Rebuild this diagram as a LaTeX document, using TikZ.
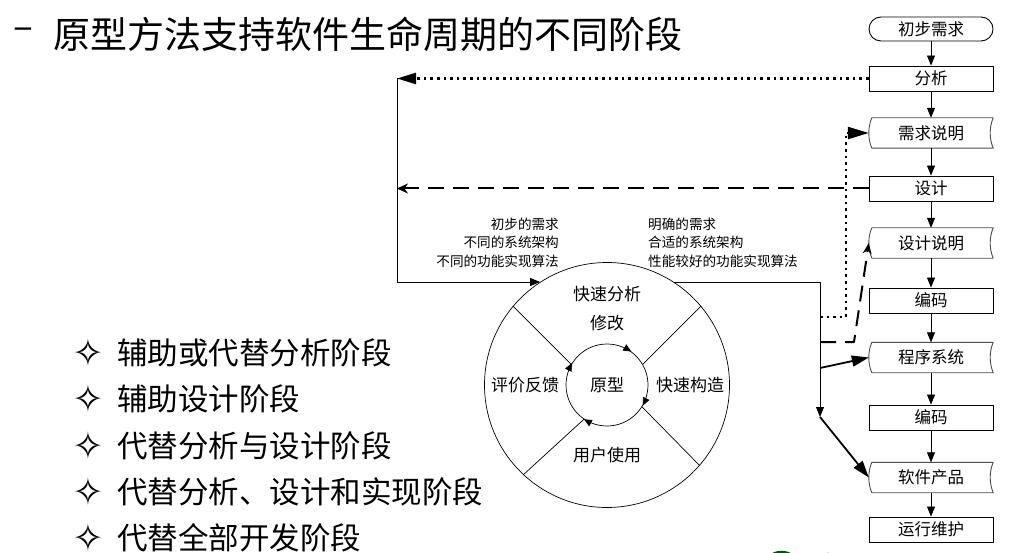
\documentclass[tikz,border=0pt]{standalone}
\usepackage{fontspec}
\setmainfont{Noto Sans CJK SC}
\newfontfamily\symfont{DejaVu Sans}
\usetikzlibrary{arrows.meta,calc}

\begin{document}
\begin{tikzpicture}[x=1pt,y=-1pt,line join=round,
  flowbox/.style={draw,line width=0.9pt,minimum width=124pt,minimum height=25pt,inner sep=0pt,
    font=\fontsize{16.5}{18}\selectfont},
  docbox/.style={minimum width=124pt,minimum height=30pt,inner sep=0pt,
    font=\fontsize{16.5}{18}\selectfont},
  docline/.style={draw=black!70,line width=0.9pt},
  ringtext/.style={inner sep=0pt,font=\fontsize{17}{19}\selectfont},
  smalltext/.style={inner sep=0pt,font=\fontsize{13.6}{18.5}\selectfont},
  itemtext/.style={anchor=west,inner sep=0pt,font=\fontsize{30.5}{32}\selectfont},
  bullet/.style={anchor=base,inner sep=0pt,text depth=0pt,text height=24pt,
    font=\symfont\fontsize{38}{40}\selectfont},
  flow/.style={line width=0.8pt,-{Triangle[length=10pt,width=8pt]}},
  bigflow/.style={line width=1.8pt,-{Triangle[length=17pt,width=11pt]}},
  dotline/.style={line width=2.4pt,dash pattern=on 2.6pt off 4pt},
  dashline/.style={line width=2pt,dash pattern=on 16pt off 9pt}]
  \useasboundingbox (0,0) rectangle (1019,553);

  % title and list
  \node[inner sep=0pt,font=\fontsize{37}{40}\selectfont] (dash) at (23,34) {–};
  \node[anchor=west,inner sep=0pt,font=\fontsize{37}{40}\selectfont] (title) at (53,34) {原型方法支持软件生命周期的不同阶段};
  \node[bullet] (b1) at (88,366) {✧};
  \node[bullet] (b2) at (88,412) {✧};
  \node[bullet] (b3) at (88,459) {✧};
  \node[bullet] (b4) at (88,505) {✧};
  \node[bullet] (b5) at (88,551) {✧};
  \node[itemtext] (i1) at (117,353) {辅助或代替分析阶段};
  \node[itemtext] (i2) at (117,399) {辅助设计阶段};
  \node[itemtext] (i3) at (117,446) {代替分析与设计阶段};
  \node[itemtext] (i4) at (117,492) {代替分析、设计和实现阶段};
  \node[itemtext] (i5) at (117,538) {代替全部开发阶段};

  % life cycle column
  \node[flowbox,rounded corners=12pt,minimum height=24pt] (req) at (931,29) {初步需求};
  \node[flowbox] (ana) at (931,78.5) {分析};
  \node[docbox] (reqdoc) at (931,133) {需求说明};
  \node[flowbox] (des) at (931,188.5) {设计};
  \node[docbox] (desdoc) at (931,243) {设计说明};
  \node[flowbox] (code1) at (931,300.5) {编码};
  \node[docbox] (prog) at (931,357.5) {程序系统};
  \node[flowbox] (code2) at (931,417.5) {编码};
  \node[docbox] (prod) at (931,477.5) {软件产品};
  \node[flowbox] (maint) at (931,529.5) {运行维护};
  \foreach \d in {reqdoc,desdoc,prog,prod}
    \draw[docline] ($(\d.north west)+(3,0)$) -- (\d.north east)
      .. controls ($(\d.east)+(-4,-6)$) and ($(\d.east)+(-4,6)$) .. (\d.south east)
      -- ($(\d.south west)+(3,0)$)
      .. controls ($(\d.west)+(-1,6)$) and ($(\d.west)+(-1,-6)$) .. cycle;
  \draw[flow] (req) -- (ana);
  \draw[flow] (ana) -- (reqdoc);
  \draw[flow] (reqdoc) -- (des);
  \draw[flow] (des) -- (desdoc);
  \draw[flow] (desdoc) -- (code1);
  \draw[flow] (code1) -- (prog);
  \draw[flow] (prog) -- (code2);
  \draw[flow] (code2) -- (prod);
  \draw[flow] (prod) -- (maint);

  % prototype cycle
  \node[circle,draw,line width=0.7pt,minimum size=245pt,inner sep=0pt] (ring) at (607,385) {};
  \node[circle,draw,line width=0.7pt,minimum size=82pt,inner sep=0pt,
    font=\fontsize{17}{19}\selectfont] (core) at (607,385) {原型};
  \draw[line width=0.7pt] (core.150) -- (ring.140);
  \draw[line width=0.7pt] (core.30) -- (ring.40);
  \draw[line width=0.7pt] (core.-32) -- (ring.-41);
  \draw[line width=0.7pt] (core.236) -- (ring.227);
  \draw[line width=0.7pt,-{Triangle[length=8pt,width=7pt]}] (core.64) -- (core.54);
  \draw[line width=0.7pt,-{Triangle[length=8pt,width=7pt]}] (core.-20) -- (core.-30);
  \draw[line width=0.7pt,-{Triangle[length=8pt,width=7pt]}] (core.246) -- (core.236);
  \draw[line width=0.7pt,-{Triangle[length=8pt,width=7pt]}] (core.158) -- (core.148);
  \node[ringtext] (quick) at (607,294) {快速分析};
  \node[ringtext] (fix) at (607,323) {修改};
  \node[ringtext] (build) at (690,385) {快速构造};
  \node[ringtext] (eval) at (525,385) {评价反馈};
  \node[ringtext] (use) at (607,455) {用户使用};
  \node[smalltext,anchor=east,align=right] (vague) at (559,242.5) {初步的需求\\不同的系统架构\\不同的功能实现算法};
  \node[smalltext,anchor=west,align=left] (clear) at (648,242.5) {明确的需求\\合适的系统架构\\性能较好的功能实现算法};

  % feedback paths
  \coordinate (loopT) at (397,78.5);
  \coordinate (loopB) at (397,282);
  \coordinate (tapA) at (820,317);
  \coordinate (tapB) at (820,342);
  \coordinate (tapC) at (820,368);
  \coordinate (tapD) at (820,417);
  \draw[dotline,-{Triangle[length=19pt,width=11pt]}] (ana.west) -- (loopT);
  \draw[dashline,-{Stealth[length=11pt,width=10pt]}] (des.west) -- (des.west -| loopT);
  \draw[flow,line width=0.9pt] (loopT) -- (loopB) -- (loopB -| ring.123);
  \draw[flow,line width=0.9pt] (ring.57) -- (ring.57 -| tapD) -- (tapD);
  \draw[dotline,-{Triangle[length=21pt,width=12pt]}] (tapA) -- ++(26,0) |- (reqdoc.west);
  \draw[dashline,-{Stealth[length=11pt,width=9pt]}] (tapB) -- ++(34,0) -- (desdoc.west);
  \draw[bigflow] (tapC) -- (prog.west);
  \draw[bigflow] (tapD) -- (prod.west);

  % logo edge
  \draw[green!35!black,line width=2pt] (768,557) .. controls (776,550) and (787,550) .. (795,557);
  \fill[green!35!black] (828,554) circle (1.5pt);
\end{tikzpicture}
\end{document}
